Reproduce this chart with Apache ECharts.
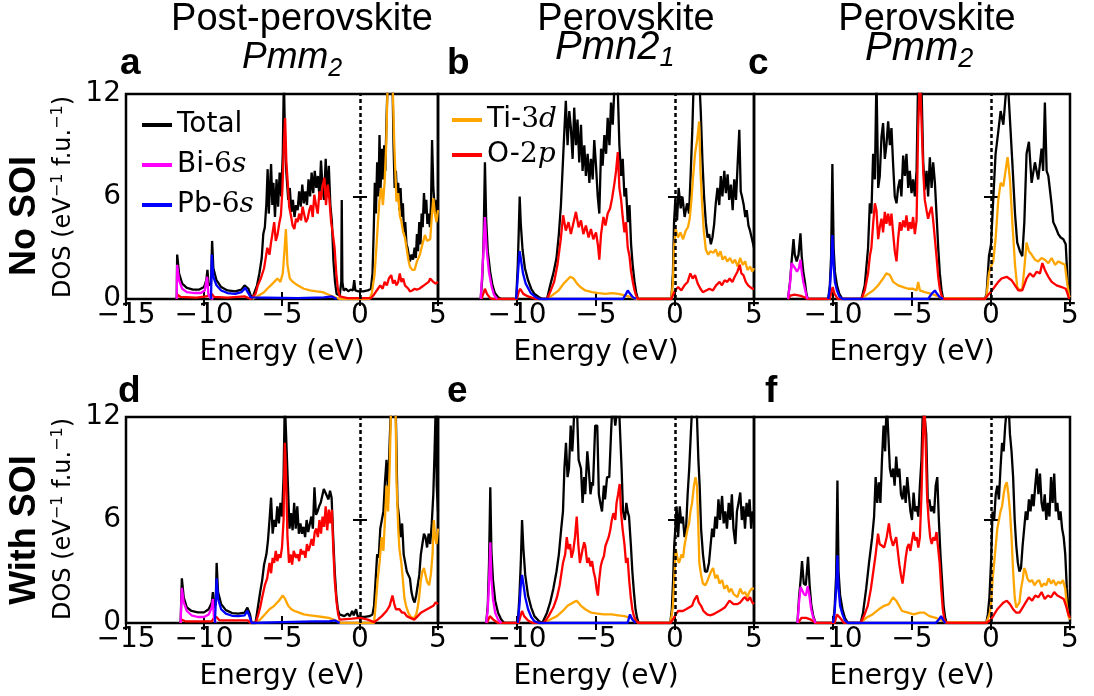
<!DOCTYPE html>
<html>
<head>
<meta charset="utf-8">
<script src="https://cdn.jsdelivr.net/npm/echarts@6/dist/echarts.min.js"></script>
<style>
html, body { margin: 0; padding: 0; background: #fff; }
#chart { width: 1094px; height: 696px; }
</style>
</head>
<body>
<div id="chart"></div>
<script>
// ticks
const xTicks = [-15, -10, -5, 0, 5];
const yTicks = [0, 6, 12];

// ---- a : post-perovskite Pmm2, no SOI ----
const aTotal = [[-11.75,0],[-11.72,2.6],[-11.6,1.5],[-11.4,0.9],[-11.1,0.65],[-10.7,0.55],[-10.3,0.55],[-10.0,0.7],[-9.85,1.1],[-9.78,1.7],[-9.7,0.8],[-9.55,0.9],[-9.48,3.4],[-9.4,1.8],[-9.2,1.1],[-8.9,0.7],[-8.5,0.5],[-8.0,0.45],[-7.6,0.55],[-7.4,0.8],[-7.3,0.9],[-7.15,0.6],[-7.0,0.2],[-6.9,0],
  [-6.8,0.3],[-6.6,0.8],[-6.45,1.5],[-6.3,2.4],[-6.2,3.8],[-6.1,4.2],[-6.0,5.6],[-5.92,7.6],[-5.85,5.0],[-5.78,6.3],[-5.7,7.9],[-5.62,5.5],[-5.55,6.8],[-5.45,4.8],[-5.35,7.0],[-5.25,5.4],[-5.15,7.4],[-5.05,6.0],[-4.95,8.5],[-4.88,13],[-4.8,9.0],[-4.72,7.4],[-4.6,5.8],[-4.5,6.5],[-4.4,5.1],[-4.3,5.8],[-4.2,4.8],[-4.1,5.5],[-4.0,5.2],[-3.9,6.3],[-3.8,5.4],[-3.7,6.7],[-3.6,5.6],[-3.5,6.3],[-3.4,5.5],[-3.3,7.0],[-3.2,6.0],[-3.1,7.4],[-3.0,6.2],[-2.9,7.5],[-2.8,6.5],[-2.7,7.2],[-2.6,6.0],[-2.5,8.1],[-2.4,6.5],[-2.3,5.8],[-2.2,8.2],[-2.1,6.0],[-2.0,7.8],[-1.9,5.5],[-1.8,4.5],[-1.7,2.2],[-1.6,1.0],[-1.5,0.3],[-1.3,0.2],[-1.2,1.0],[-1.17,5.8],[-1.13,1.0],[-1.05,0.5],
  [-0.9,0.6],[-0.75,0.45],[-0.6,0.55],[-0.45,0.5],[-0.37,1.1],[-0.3,0.5],[-0.1,0.45],[0.2,0.45],[0.5,0.5],[0.7,0.6],[0.8,1.5],
  [0.88,4.0],[0.95,6.8],[1.02,5.0],[1.1,8.0],[1.18,6.0],[1.25,9.6],[1.32,6.5],[1.4,8.8],[1.48,7.0],[1.55,9.0],[1.62,7.5],[1.7,10.5],[1.78,13],[2.08,13],[2.15,9.0],[2.22,6.5],[2.3,7.5],[2.38,5.8],[2.45,6.8],[2.52,5.2],[2.6,6.5],[2.68,4.8],[2.75,5.6],[2.82,3.9],[2.9,4.5],[2.98,3.2],[3.05,3.0],[3.12,2.6],[3.2,2.2],[3.3,2.6],[3.4,2.3],[3.5,3.0],[3.58,2.4],[3.65,3.8],[3.72,2.8],[3.8,4.5],[3.88,3.2],[3.95,5.0],[4.02,4.2],[4.1,6.2],[4.18,5.0],[4.25,5.8],[4.32,4.4],[4.4,5.0],[4.48,4.2],[4.55,5.5],[4.62,9.3],[4.7,6.5],[4.78,5.5],[4.85,5.0],[4.92,5.8],[5.0,5.5]];
const aTi = [[-6.9,0],[-6.6,0.15],[-6.15,0.4],[-5.95,0.6],[-5.72,0.8],[-5.5,1.0],[-5.29,1.2],[-5.1,1.0],[-4.95,1.5],[-4.86,2.6],[-4.75,4.1],[-4.65,2.0],[-4.5,1.2],[-4.3,1.0],[-4.0,0.8],[-3.6,0.6],[-3.2,0.5],[-2.8,0.45],[-2.4,0.4],[-2.0,0.25],[-1.6,0.1],[-1.3,0],
  [0.6,0],[0.75,0.3],[0.93,1.4],[1.05,3.0],[1.15,4.5],[1.25,5.8],[1.37,6.5],[1.47,5.5],[1.58,6.9],[1.68,9.0],[1.78,13],[2.08,13],[2.2,9.0],[2.34,5.7],[2.45,6.2],[2.55,4.9],[2.66,4.5],[2.77,3.9],[2.88,3.6],[2.98,3.0],[3.1,2.3],[3.2,1.9],[3.35,1.7],[3.5,1.7],[3.65,2.2],[3.84,2.6],[4.0,3.2],[4.16,3.75],[4.3,3.4],[4.5,3.5],[4.6,4.8],[4.7,5.9],[4.8,5.0],[4.9,4.5],[5.0,5.2]];
const aO = [[-11.75,0],[-11.7,0.25],[-11.5,0.12],[-10.5,0.08],[-9.85,0.15],[-9.75,0.2],[-9.5,0.3],[-9.35,0.12],[-8.5,0.08],[-7.4,0.15],[-7.3,0.18],[-7.0,0],
  [-6.9,0],[-6.7,0.3],[-6.55,0.8],[-6.36,1.2],[-6.15,1.8],[-5.94,3.0],[-5.8,2.6],[-5.72,3.2],[-5.6,3.9],[-5.5,4.5],[-5.4,3.4],[-5.29,3.75],[-5.18,4.4],[-5.07,4.9],[-4.97,6.5],[-4.88,9.0],[-4.8,10.6],[-4.72,8.0],[-4.64,6.9],[-4.54,5.4],[-4.43,4.9],[-4.32,4.3],[-4.21,4.1],[-4.1,4.7],[-4.0,4.5],[-3.9,5.0],[-3.78,4.6],[-3.68,5.4],[-3.57,5.3],[-3.47,4.5],[-3.36,4.7],[-3.25,5.2],[-3.14,5.5],[-3.03,4.8],[-2.93,6.1],[-2.82,5.5],[-2.71,5.0],[-2.6,6.3],[-2.5,5.8],[-2.4,6.6],[-2.28,7.1],[-2.18,5.5],[-2.07,6.7],[-1.96,5.8],[-1.85,4.5],[-1.74,3.8],[-1.63,3.0],[-1.52,1.5],[-1.42,0.6],[-1.3,0.15],[-1.2,0.05],
  [-0.8,0.05],[0.0,0.05],[0.7,0.05],
  [0.85,0.2],[1.0,0.4],[1.15,0.6],[1.3,0.8],[1.45,0.6],[1.58,1.0],[1.72,0.8],[1.85,1.2],[2.0,1.4],[2.12,0.9],[2.22,1.1],[2.34,0.8],[2.45,1.0],[2.55,1.5],[2.66,1.0],[2.77,1.2],[2.88,0.8],[2.98,0.9],[3.1,0.6],[3.2,0.45],[3.35,0.5],[3.5,0.6],[3.65,0.55],[3.8,0.6],[3.95,0.7],[4.1,0.8],[4.25,0.9],[4.4,1.0],[4.5,1.2],[4.6,1.1],[4.7,1.0],[4.85,0.9],[5.0,1.0]];
const aBi = [[-11.75,0],[-11.72,2.0],[-11.6,1.1],[-11.4,0.6],[-11.1,0.4],[-10.6,0.35],[-10.2,0.35],[-9.95,0.5],[-9.8,1.3],[-9.72,0.3],[-9.6,0.05],[-9.4,0]];
const aPb = [[-9.55,0],[-9.5,2.6],[-9.4,1.3],[-9.2,0.8],[-8.9,0.5],[-8.5,0.35],[-8.0,0.3],[-7.6,0.4],[-7.35,0.65],[-7.2,0.4],[-7.0,0.1],[-6.9,0],[-4.0,0.05],[-2.3,0.1],[-1.8,0.15],[-1.5,0]];

// ---- b : perovskite Pmn2_1, no SOI ----
const bTotal = [[-12.3,0],[-12.2,1.2],[-12.12,3.2],[-12.03,8.0],[-11.95,4.6],[-11.85,2.8],[-11.7,1.6],[-11.55,0.8],[-11.4,0.35],[-11.2,0.1],[-11.0,0],
  [-10.05,0],[-9.95,2.0],[-9.9,3.6],[-9.83,6.0],[-9.76,4.4],[-9.65,2.9],[-9.5,1.8],[-9.3,1.1],[-9.1,0.6],[-8.9,0.3],[-8.6,0.1],[-8.4,0],
  [-8.1,0],[-7.9,0.8],[-7.7,1.5],[-7.5,2.4],[-7.35,3.8],[-7.22,5.5],[-7.12,7.5],[-7.02,9.5],[-6.91,11.6],[-6.8,9.0],[-6.69,11.0],[-6.59,10.0],[-6.48,8.2],[-6.38,11.2],[-6.27,9.0],[-6.17,10.5],[-6.06,8.0],[-5.95,10.2],[-5.85,7.5],[-5.74,9.0],[-5.64,7.2],[-5.53,8.5],[-5.42,6.8],[-5.32,8.2],[-5.21,7.0],[-5.11,9.3],[-5.0,7.8],[-4.89,6.0],[-4.79,5.0],[-4.68,8.8],[-4.58,7.8],[-4.47,9.6],[-4.36,8.5],[-4.26,10.6],[-4.15,9.0],[-4.05,11.5],[-3.94,10.2],[-3.83,12.5],[-3.73,13],[-3.62,12.2],[-3.52,9.0],[-3.41,7.2],[-3.31,8.2],[-3.2,6.0],[-3.1,6.5],[-2.99,4.5],[-2.88,5.5],[-2.78,3.2],[-2.68,2.0],[-2.56,1.0],[-2.46,0.4],[-2.35,0],
  [-0.23,0],[-0.13,1.5],[-0.06,4.5],[0.02,5.8],[0.13,4.6],[0.23,6.5],[0.36,5.3],[0.47,6.0],[0.61,4.8],[0.76,5.6],[0.89,5.0],[1.0,7.5],[1.1,10.0],[1.19,13],[1.53,13],[1.63,11.0],[1.74,8.0],[1.84,6.0],[1.95,4.5],[2.06,3.6],[2.16,3.8],[2.27,3.2],[2.37,3.6],[2.48,4.4],[2.58,5.6],[2.69,6.5],[2.8,5.5],[2.9,7.2],[3.0,6.0],[3.12,7.5],[3.22,6.2],[3.33,7.3],[3.43,5.8],[3.54,6.7],[3.65,5.2],[3.75,7.0],[3.86,5.8],[3.97,8.0],[4.07,9.9],[4.16,6.3],[4.24,6.0],[4.35,5.5],[4.45,4.8],[4.54,5.2],[4.65,4.3],[4.75,4.0],[4.85,3.6],[5.0,3.0]];
const bTi = [[-8.1,0],[-7.8,0.2],[-7.37,0.5],[-7.05,0.9],[-6.84,1.1],[-6.63,1.3],[-6.42,1.2],[-6.2,0.9],[-5.99,0.7],[-5.68,0.5],[-5.25,0.4],[-4.83,0.35],[-4.4,0.3],[-3.98,0.35],[-3.56,0.3],[-3.14,0.2],[-2.71,0.1],[-2.5,0],
  [-0.23,0],[-0.13,1.0],[-0.06,3.0],[0.04,4.1],[0.19,3.6],[0.34,3.9],[0.51,3.5],[0.68,4.0],[0.82,4.2],[0.93,4.7],[1.04,5.8],[1.14,7.1],[1.27,8.5],[1.4,9.3],[1.53,10.4],[1.61,7.5],[1.72,5.5],[1.82,4.0],[1.95,2.9],[2.1,2.6],[2.25,2.8],[2.42,2.7],[2.58,2.9],[2.73,2.5],[2.88,2.8],[3.01,2.3],[3.16,2.5],[3.31,2.2],[3.48,2.4],[3.65,2.1],[3.8,2.3],[3.97,1.9],[4.12,2.4],[4.29,2.0],[4.44,2.2],[4.59,1.7],[4.76,1.9],[4.88,1.6],[5.0,1.8]];
const bO = [[-12.25,0],[-12.1,0.4],[-12.03,0.6],[-11.9,0.3],[-11.7,0.05],[-11.5,0],
  [-10.0,0],[-9.9,0.4],[-9.8,0.6],[-9.6,0.3],[-9.3,0.15],[-8.8,0],
  [-8.1,0],[-7.86,0.5],[-7.65,1.0],[-7.44,2.0],[-7.23,3.5],[-7.08,4.9],[-6.91,4.0],[-6.74,4.5],[-6.59,3.8],[-6.44,4.4],[-6.27,5.1],[-6.1,4.2],[-5.95,4.6],[-5.8,3.8],[-5.64,4.3],[-5.47,3.6],[-5.32,4.1],[-5.17,3.5],[-5.0,3.9],[-4.87,3.1],[-4.79,2.3],[-4.68,3.8],[-4.53,4.8],[-4.4,4.3],[-4.26,5.0],[-4.11,5.3],[-3.98,5.9],[-3.83,6.8],[-3.73,7.5],[-3.62,8.6],[-3.52,6.5],[-3.41,5.8],[-3.31,4.8],[-3.2,3.9],[-3.1,4.5],[-2.99,3.0],[-2.88,2.5],[-2.78,1.6],[-2.67,1.0],[-2.56,0.5],[-2.46,0.2],[-2.35,0],
  [-0.23,0],[-0.1,0.3],[0.0,0.5],[0.2,0.7],[0.4,0.5],[0.6,0.8],[0.8,1.0],[0.97,1.5],[1.12,1.2],[1.27,1.4],[1.44,0.9],[1.61,0.6],[1.76,0.4],[1.97,0.5],[2.18,0.6],[2.4,0.5],[2.6,0.8],[2.82,1.0],[2.97,0.8],[3.14,1.1],[3.31,1.0],[3.46,1.2],[3.63,1.0],[3.78,1.3],[3.95,1.6],[4.1,2.0],[4.2,1.5],[4.33,1.4],[4.48,1.0],[4.63,0.8],[4.76,0.7],[4.9,0.6],[5.0,0.6]];
const bBi = [[-12.3,0],[-12.14,2.5],[-12.03,4.8],[-11.93,3.0],[-11.78,1.6],[-11.6,0.7],[-11.46,0.25],[-11.25,0]];
const bPb = [[-10.05,0],[-9.9,2.0],[-9.83,2.8],[-9.75,2.3],[-9.62,1.5],[-9.45,0.9],[-9.13,0.35],[-8.8,0.1],[-8.6,0],[-3.3,0],[-3.1,0.3],[-2.99,0.5],[-2.88,0.35],[-2.67,0.1],[-2.46,0]];

// ---- c : perovskite Pmm2, no SOI ----
const cTotal = [[-12.85,0],[-12.72,1.0],[-12.62,2.2],[-12.5,3.5],[-12.42,2.6],[-12.3,2.2],[-12.18,2.6],[-12.06,3.85],[-11.98,2.5],[-11.88,1.6],[-11.78,1.0],[-11.68,0.3],[-11.6,0],
  [-10.3,0],[-10.2,0.8],[-10.12,2.5],[-10.04,7.9],[-9.96,3.0],[-9.88,1.6],[-9.75,0.8],[-9.6,0.3],[-9.4,0],
  [-8.2,0],[-7.99,0.8],[-7.78,3.0],[-7.67,5.6],[-7.57,5.0],[-7.46,8.5],[-7.35,7.0],[-7.25,13],[-7.14,6.5],[-7.04,7.2],[-6.93,9.5],[-6.83,10.3],[-6.72,8.2],[-6.62,9.0],[-6.51,10.4],[-6.4,9.0],[-6.3,10.0],[-6.19,7.8],[-6.09,6.0],[-5.98,5.6],[-5.88,6.5],[-5.77,7.0],[-5.67,6.0],[-5.56,8.4],[-5.45,7.2],[-5.35,8.5],[-5.24,6.5],[-5.14,7.5],[-5.03,6.2],[-4.93,7.0],[-4.82,6.0],[-4.71,7.5],[-4.61,13],[-4.4,12.5],[-4.29,8.0],[-4.19,6.4],[-4.08,7.5],[-3.98,6.0],[-3.87,8.3],[-3.76,6.5],[-3.66,8.0],[-3.55,6.8],[-3.45,5.0],[-3.34,3.0],[-3.24,1.5],[-3.13,0.5],[-3.03,0],
  [-0.39,0],[-0.28,0.3],[-0.13,2.5],[0.0,3.2],[0.14,5.8],[0.29,8.5],[0.46,9.8],[0.61,11.0],[0.78,10.2],[0.92,11.8],[1.05,13],[1.2,10.5],[1.35,8.0],[1.52,5.0],[1.66,3.3],[1.83,2.8],[1.98,2.5],[2.11,4.5],[2.25,8.5],[2.4,9.2],[2.57,6.8],[2.78,8.0],[2.99,7.0],[3.2,8.8],[3.3,7.5],[3.41,11.5],[3.52,7.5],[3.63,7.2],[3.84,5.5],[3.94,4.5],[4.09,4.2],[4.26,3.8],[4.41,3.6],[4.58,3.5],[4.73,3.2],[4.85,1.0],[4.94,0.2],[5.0,0]];
const cTi = [[-8.2,0],[-7.78,0.3],[-7.46,0.5],[-7.14,0.8],[-6.83,1.2],[-6.62,1.5],[-6.51,1.6],[-6.4,1.4],[-6.19,1.0],[-5.88,0.8],[-5.56,0.7],[-5.24,0.6],[-4.93,0.6],[-4.71,0.5],[-4.61,1.0],[-4.5,0.5],[-4.19,0.4],[-3.76,0.3],[-3.45,0.2],[-3.13,0.05],[-3.03,0],
  [-0.39,0],[-0.28,0.2],[-0.13,1.5],[0.0,1.9],[0.14,2.2],[0.29,3.5],[0.46,5.8],[0.61,6.8],[0.78,6.6],[0.92,7.5],[1.05,8.3],[1.2,7.0],[1.35,4.5],[1.52,2.0],[1.66,0.7],[1.83,0.5],[1.98,0.6],[2.11,1.8],[2.25,3.3],[2.4,2.8],[2.57,2.6],[2.78,2.3],[2.99,2.2],[3.2,2.4],[3.41,2.3],[3.63,2.1],[3.84,2.4],[4.05,2.0],[4.26,2.2],[4.47,2.1],[4.68,2.0],[4.81,1.0],[4.94,0.2],[5.0,0.1]];
const cO = [[-12.85,0],[-12.7,0.2],[-12.45,0.25],[-12.1,0.2],[-11.8,0.1],[-11.6,0],[-10.2,0],[-10.08,0.5],[-10.02,0.7],[-9.9,0.3],[-9.7,0],
  [-8.2,0],[-7.99,0.5],[-7.78,1.5],[-7.67,2.5],[-7.57,3.0],[-7.46,4.4],[-7.35,5.6],[-7.25,5.2],[-7.14,3.5],[-7.04,4.2],[-6.93,4.7],[-6.83,3.9],[-6.72,5.1],[-6.62,4.4],[-6.51,5.0],[-6.4,4.3],[-6.3,5.0],[-6.19,3.8],[-6.09,2.8],[-5.98,2.2],[-5.88,3.5],[-5.77,4.5],[-5.67,4.0],[-5.56,4.6],[-5.45,4.2],[-5.35,4.9],[-5.24,4.0],[-5.14,4.5],[-5.03,4.1],[-4.93,4.8],[-4.82,3.8],[-4.71,4.6],[-4.61,10.0],[-4.5,13],[-4.4,10.5],[-4.29,7.5],[-4.19,5.8],[-4.08,5.2],[-3.98,4.7],[-3.87,5.1],[-3.76,5.4],[-3.66,4.6],[-3.55,3.5],[-3.45,2.5],[-3.34,1.3],[-3.24,0.6],[-3.13,0.2],[-3.03,0],
  [-0.39,0],[-0.13,0.3],[0.14,0.6],[0.46,1.0],[0.67,1.2],[0.99,1.3],[1.3,1.1],[1.52,0.8],[1.73,0.5],[1.98,0.5],[2.25,1.2],[2.46,1.5],[2.68,1.3],[2.89,1.6],[3.1,1.5],[3.25,2.1],[3.41,1.7],[3.63,1.3],[3.84,1.0],[4.15,0.8],[4.47,0.7],[4.73,0.6],[4.85,0.3],[4.94,0]];
const cBi = [[-12.85,0],[-12.72,0.9],[-12.62,2.1],[-12.5,2.2],[-12.4,1.8],[-12.28,1.6],[-12.16,1.8],[-12.06,2.3],[-11.98,1.6],[-11.88,1.0],[-11.78,0.6],[-11.68,0.2],[-11.6,0]];
const cPb = [[-10.3,0],[-10.2,0.6],[-10.12,1.8],[-10.04,3.75],[-9.96,2.0],[-9.88,1.0],[-9.75,0.5],[-9.6,0.15],[-9.4,0],[-3.98,0],[-3.76,0.3],[-3.55,0.5],[-3.45,0.35],[-3.24,0.1],[-3.03,0]];

// ---- d : post-perovskite Pmm2, with SOI ----
const dTotal = [[-11.5,0],[-11.42,2.6],[-11.3,1.5],[-11.1,0.9],[-10.8,0.7],[-10.4,0.62],[-10.0,0.62],[-9.7,0.8],[-9.5,1.2],[-9.43,1.8],[-9.36,0.9],[-9.25,1.1],[-9.19,3.5],[-9.1,1.8],[-8.9,1.1],[-8.6,0.75],[-8.2,0.58],[-7.8,0.55],[-7.4,0.6],[-7.22,0.9],[-7.14,1.0],[-7.05,0.5],[-6.95,0],
  [-6.7,0],[-6.55,0.9],[-6.4,1.8],[-6.27,2.5],[-6.15,3.4],[-6.0,4.0],[-5.9,4.8],[-5.8,6.0],[-5.7,7.3],[-5.6,5.2],[-5.5,6.0],[-5.4,5.6],[-5.3,6.8],[-5.2,5.8],[-5.1,7.0],[-5.0,6.2],[-4.9,8.5],[-4.82,13],[-4.72,13],[-4.62,8.0],[-4.52,5.5],[-4.42,6.4],[-4.32,5.4],[-4.22,7.0],[-4.12,5.5],[-4.02,6.8],[-3.92,5.2],[-3.82,5.8],[-3.72,5.2],[-3.62,5.6],[-3.52,5.0],[-3.42,6.0],[-3.32,5.3],[-3.22,5.4],[-3.12,6.2],[-3.02,5.5],[-2.92,7.9],[-2.82,6.3],[-2.72,6.5],[-2.62,6.8],[-2.52,7.0],[-2.42,7.0],[-2.32,7.8],[-2.22,7.6],[-2.12,7.6],[-2.02,7.2],[-1.92,7.7],[-1.82,7.3],[-1.72,5.0],[-1.62,3.0],[-1.52,1.6],[-1.42,0.8],[-1.32,0.5],
  [-1.2,0.45],[-1.0,0.4],[-0.8,0.55],[-0.65,0.4],[-0.5,0.7],[-0.4,0.45],[-0.25,0.8],[-0.15,0.4],[0.0,0.35],[0.3,0.35],[0.6,0.4],[0.8,0.5],
  [0.9,1.0],[1.0,2.5],[1.1,4.0],[1.2,3.8],[1.3,5.5],[1.4,6.0],[1.5,6.5],[1.6,8.2],[1.7,9.5],[1.8,7.5],[1.9,10.5],[2.0,13],[2.3,12.0],[2.4,7.0],[2.5,6.2],[2.6,5.0],[2.7,5.8],[2.8,4.0],[2.9,3.5],[3.0,3.0],[3.1,2.8],[3.2,2.6],[3.3,1.8],[3.4,1.4],[3.5,1.2],[3.6,1.6],[3.7,2.2],[3.8,2.8],[3.9,4.0],[4.0,4.6],[4.1,5.2],[4.2,5.0],[4.3,4.4],[4.4,5.2],[4.5,4.6],[4.6,5.8],[4.7,7.5],[4.78,10],[4.85,12.5],[4.92,8.0],[5.0,6.5]];
const dTi = [[-6.7,0],[-6.4,0.2],[-6.1,0.5],[-5.8,0.8],[-5.5,1.0],[-5.2,1.3],[-4.95,1.6],[-4.8,1.4],[-4.75,1.5],[-4.6,1.0],[-4.4,0.8],[-4.2,0.7],[-3.9,0.6],[-3.6,0.5],[-3.2,0.45],[-2.8,0.4],[-2.4,0.35],[-2.0,0.3],[-1.7,0.2],[-1.4,0.1],[-1.25,0],
  [0.9,0],[1.0,1.0],[1.13,2.5],[1.25,3.5],[1.39,5.0],[1.5,4.2],[1.6,6.0],[1.7,8.0],[1.8,6.5],[1.9,9.0],[2.0,13],[2.27,13],[2.35,8.0],[2.45,5.5],[2.53,4.3],[2.65,3.5],[2.75,2.5],[2.84,1.5],[2.95,1.0],[3.1,0.6],[3.22,0.4],[3.35,0.3],[3.48,0.3],[3.6,0.5],[3.7,0.9],[3.79,1.5],[3.9,2.5],[4.0,3.0],[4.1,3.2],[4.2,2.8],[4.3,2.4],[4.43,2.2],[4.54,2.8],[4.65,4.0],[4.73,6.0],[4.82,5.0],[4.9,4.6],[5.0,5.5]];
const dO = [[-11.5,0],[-11.45,0.2],[-11.2,0.1],[-9.5,0.1],[-9.4,0.25],[-9.2,0.35],[-9.0,0.15],[-7.2,0.15],[-7.0,0],
  [-6.7,0],[-6.55,0.4],[-6.4,0.9],[-6.27,1.5],[-6.1,2.2],[-5.95,2.6],[-5.8,3.5],[-5.7,2.9],[-5.6,3.8],[-5.5,3.5],[-5.4,4.2],[-5.3,3.6],[-5.2,4.0],[-5.1,3.8],[-5.0,4.4],[-4.9,6.0],[-4.82,10.5],[-4.75,9.0],[-4.65,5.0],[-4.55,3.5],[-4.45,4.0],[-4.35,3.4],[-4.25,4.2],[-4.1,3.8],[-4.0,4.0],[-3.9,3.6],[-3.8,4.3],[-3.7,4.0],[-3.6,4.2],[-3.5,3.8],[-3.4,4.6],[-3.3,4.2],[-3.2,4.5],[-3.1,4.9],[-3.0,4.5],[-2.9,5.3],[-2.8,5.5],[-2.7,5.0],[-2.6,6.0],[-2.5,5.2],[-2.4,6.2],[-2.3,5.6],[-2.2,6.8],[-2.1,5.4],[-2.0,6.6],[-1.9,5.8],[-1.8,6.6],[-1.72,4.5],[-1.62,2.5],[-1.5,1.2],[-1.4,0.5],[-1.3,0.2],
  [-1.2,0.1],[-0.5,0.25],[0.0,0.3],[0.5,0.2],[0.9,0.05],
  [1.13,0.2],[1.4,0.4],[1.7,0.7],[1.9,1.0],[2.08,1.6],[2.2,1.1],[2.3,0.8],[2.53,0.8],[2.7,0.6],[2.84,0.6],[3.0,0.4],[3.22,0.3],[3.48,0.2],[3.7,0.4],[3.9,0.6],[4.1,0.7],[4.3,0.8],[4.5,0.9],[4.7,1.0],[4.85,1.2],[5.0,1.1]];
const dBi = [[-11.5,0],[-11.42,2.05],[-11.3,1.2],[-11.1,0.7],[-10.8,0.45],[-10.4,0.35],[-10.0,0.35],[-9.7,0.5],[-9.5,0.9],[-9.43,1.4],[-9.36,0.3],[-9.25,0]];
const dPb = [[-9.3,0],[-9.19,2.6],[-9.1,1.4],[-8.9,0.8],[-8.6,0.55],[-8.2,0.42],[-7.8,0.4],[-7.4,0.45],[-7.22,0.7],[-7.14,0.75],[-7.05,0.3],[-6.95,0],[-5.0,0.05],[-3.0,0.1],[-2.0,0.1],[-1.6,0.15],[-1.3,0]];

// ---- e : perovskite Pmn2_1, with SOI ----
const eTotal = [[-11.95,0],[-11.85,1.0],[-11.77,3.5],[-11.69,7.9],[-11.62,4.2],[-11.52,2.5],[-11.38,1.3],[-11.2,0.6],[-11.0,0.2],[-10.8,0],
  [-9.95,0],[-9.85,1.5],[-9.76,3.5],[-9.68,6.0],[-9.6,4.4],[-9.48,2.8],[-9.3,1.6],[-9.1,0.9],[-8.9,0.4],[-8.6,0.1],[-8.4,0],
  [-8.3,0],[-8.1,0.6],[-7.9,1.2],[-7.7,2.0],[-7.5,3.0],[-7.35,4.0],[-7.2,5.5],[-7.09,6.5],[-7.0,9.0],[-6.9,10.5],[-6.8,8.5],[-6.71,9.0],[-6.6,11.5],[-6.5,10.0],[-6.44,11.0],[-6.35,13],[-6.22,13],[-6.1,9.5],[-5.95,9.0],[-5.85,7.0],[-5.75,8.5],[-5.68,7.5],[-5.55,10.0],[-5.46,9.0],[-5.35,7.5],[-5.25,8.2],[-5.19,8.0],[-5.05,11.5],[-4.92,11.5],[-4.82,7.5],[-4.73,7.0],[-4.62,6.5],[-4.5,8.0],[-4.43,7.2],[-4.3,8.5],[-4.16,8.5],[-4.05,11.0],[-3.95,13],[-3.86,13],[-3.78,11.5],[-3.66,12.5],[-3.56,13],[-3.48,13],[-3.38,9.0],[-3.29,6.5],[-3.17,6.0],[-3.08,7.0],[-3.0,6.5],[-2.91,6.2],[-2.79,4.5],[-2.7,3.0],[-2.6,1.8],[-2.5,0.8],[-2.4,0.3],[-2.3,0],
  [-0.3,0],[-0.2,0.8],[-0.12,2.5],[-0.05,4.5],[0.02,5.5],[0.1,6.8],[0.2,5.0],[0.3,6.8],[0.4,5.8],[0.5,6.2],[0.6,5.0],[0.7,5.5],[0.8,7.5],[0.9,9.0],[1.0,11.0],[1.08,12.5],[1.16,13],[1.27,13],[1.39,12.0],[1.48,9.5],[1.56,8.0],[1.65,5.5],[1.77,4.0],[1.9,3.0],[2.03,3.0],[2.15,3.5],[2.25,4.5],[2.35,5.5],[2.45,5.0],[2.55,6.2],[2.65,5.5],[2.75,7.2],[2.85,6.0],[2.98,7.4],[3.08,5.8],[3.18,6.5],[3.29,5.5],[3.4,7.0],[3.5,6.0],[3.6,7.5],[3.7,5.5],[3.82,4.6],[3.92,6.5],[4.02,7.0],[4.13,7.6],[4.23,6.0],[4.33,6.8],[4.43,5.5],[4.53,7.0],[4.63,6.2],[4.72,7.2],[4.82,5.5],[4.92,6.5],[5.0,6.0]];
const eTi = [[-8.3,0],[-7.9,0.2],[-7.47,0.4],[-7.1,0.7],[-6.8,1.0],[-6.44,1.2],[-6.22,1.3],[-5.95,1.0],[-5.68,0.8],[-5.3,0.6],[-4.9,0.55],[-4.5,0.5],[-4.0,0.5],[-3.6,0.45],[-3.2,0.4],[-2.8,0.3],[-2.5,0.15],[-2.3,0],
  [-0.3,0],[-0.2,0.5],[-0.13,1.0],[-0.05,2.5],[0.05,4.3],[0.15,3.8],[0.25,3.5],[0.32,3.5],[0.42,4.0],[0.51,3.8],[0.6,4.5],[0.7,5.0],[0.8,5.5],[0.89,5.8],[0.98,6.5],[1.08,7.0],[1.2,8.0],[1.3,8.5],[1.39,8.0],[1.48,5.5],[1.54,3.5],[1.65,2.8],[1.77,2.3],[1.92,2.2],[2.03,2.4],[2.15,2.7],[2.28,3.0],[2.41,3.2],[2.55,2.6],[2.68,2.8],[2.82,2.3],[2.98,2.5],[3.12,2.0],[3.29,2.2],[3.42,1.8],[3.56,2.0],[3.7,1.7],[3.82,1.8],[3.95,1.5],[4.13,2.0],[4.28,1.7],[4.43,1.8],[4.58,1.5],[4.7,1.8],[4.85,2.0],[5.0,2.0]];
const eO = [[-11.9,0],[-11.72,0.4],[-11.65,0.5],[-11.5,0.2],[-11.2,0],
  [-9.9,0],[-9.75,0.5],[-9.68,0.7],[-9.55,0.4],[-9.3,0.15],[-9.0,0],
  [-8.3,0],[-8.0,0.4],[-7.7,0.9],[-7.47,1.5],[-7.3,2.2],[-7.09,3.5],[-6.95,4.0],[-6.85,5.0],[-6.75,4.3],[-6.64,4.6],[-6.55,3.8],[-6.44,4.2],[-6.33,5.0],[-6.22,6.2],[-6.12,4.6],[-6.02,3.5],[-5.95,3.8],[-5.85,4.3],[-5.75,4.7],[-5.68,4.5],[-5.56,3.5],[-5.46,3.8],[-5.35,3.3],[-5.25,3.6],[-5.15,3.0],[-5.05,2.6],[-4.95,1.9],[-4.88,1.6],[-4.8,2.5],[-4.7,3.3],[-4.62,3.6],[-4.5,3.9],[-4.4,4.5],[-4.3,4.6],[-4.2,5.0],[-4.1,5.4],[-4.0,6.0],[-3.9,6.4],[-3.78,6.0],[-3.7,7.0],[-3.6,7.5],[-3.5,8.1],[-3.42,6.5],[-3.32,5.5],[-3.2,4.6],[-3.1,3.5],[-3.0,3.8],[-2.9,2.5],[-2.8,1.5],[-2.7,0.8],[-2.6,0.4],[-2.45,0.1],[-2.3,0],
  [-0.3,0],[-0.13,0.2],[0.05,0.5],[0.2,0.7],[0.32,0.8],[0.5,0.7],[0.7,0.8],[0.89,0.9],[1.08,1.0],[1.2,1.3],[1.39,1.6],[1.5,1.2],[1.65,1.0],[1.8,0.7],[2.03,0.5],[2.2,0.45],[2.41,0.5],[2.6,0.6],[2.8,0.7],[2.98,0.8],[3.15,0.9],[3.3,1.1],[3.45,1.3],[3.56,1.3],[3.7,1.1],[3.82,1.0],[3.95,1.1],[4.13,1.2],[4.3,1.4],[4.43,1.5],[4.6,1.3],[4.75,1.5],[4.89,1.2],[5.0,1.1]];
const eBi = [[-11.95,0],[-11.85,0.8],[-11.77,2.4],[-11.69,4.7],[-11.62,2.6],[-11.52,1.4],[-11.38,0.6],[-11.2,0.2],[-11.0,0]];
const ePb = [[-9.95,0],[-9.85,1.0],[-9.76,2.2],[-9.68,2.8],[-9.6,2.3],[-9.48,1.5],[-9.3,0.8],[-9.1,0.35],[-8.9,0.1],[-8.6,0],[-3.0,0],[-2.85,0.5],[-2.7,0.2],[-2.5,0]];

// ---- f : perovskite Pmm2, with SOI ----
const fTotal = [[-12.25,0],[-12.15,1.5],[-12.05,2.5],[-11.96,3.6],[-11.85,2.3],[-11.72,2.2],[-11.58,3.85],[-11.48,2.2],[-11.38,1.1],[-11.25,0.4],[-11.1,0],
  [-10.0,0],[-9.9,0.8],[-9.8,2.8],[-9.72,8.3],[-9.65,3.0],[-9.55,1.6],[-9.4,0.8],[-9.25,0.3],[-9.05,0],
  [-8.25,0],[-8.1,0.6],[-7.9,2.0],[-7.72,3.5],[-7.52,5.0],[-7.4,6.2],[-7.3,8.5],[-7.2,7.0],[-7.1,8.2],[-7.0,7.0],[-6.9,9.5],[-6.8,11.5],[-6.7,10.0],[-6.6,13],[-6.5,13],[-6.4,9.0],[-6.3,8.5],[-6.2,9.0],[-6.1,8.0],[-6.0,9.7],[-5.9,8.5],[-5.8,9.0],[-5.7,7.5],[-5.6,7.2],[-5.5,8.0],[-5.4,7.0],[-5.3,8.5],[-5.2,7.5],[-5.1,6.5],[-5.0,6.0],[-4.9,7.6],[-4.8,6.5],[-4.7,6.8],[-4.6,6.2],[-4.5,8.0],[-4.4,9.5],[-4.3,13],[-4.2,13],[-4.1,11.0],[-4.0,7.0],[-3.9,7.2],[-3.8,6.5],[-3.7,6.8],[-3.6,6.4],[-3.5,8.0],[-3.4,8.5],[-3.3,6.0],[-3.2,4.0],[-3.1,2.5],[-3.0,1.0],[-2.9,0.3],[-2.8,0],
  [-0.3,0],[-0.2,0.5],[-0.1,1.5],[0.0,3.5],[0.1,6.5],[0.2,6.0],[0.3,7.5],[0.4,8.0],[0.5,7.2],[0.6,9.0],[0.7,10.5],[0.8,10.0],[0.9,11.5],[1.0,12.5],[1.1,13],[1.2,11.0],[1.3,10.0],[1.4,8.5],[1.5,6.0],[1.6,4.5],[1.7,3.5],[1.8,3.0],[1.9,3.2],[2.0,4.5],[2.1,5.5],[2.2,6.5],[2.3,6.0],[2.4,7.2],[2.5,6.5],[2.6,7.5],[2.7,6.8],[2.8,8.0],[2.9,9.0],[3.0,7.5],[3.1,8.7],[3.2,7.0],[3.3,6.5],[3.4,7.5],[3.5,6.0],[3.6,7.0],[3.7,6.2],[3.8,8.5],[3.9,7.0],[4.0,8.7],[4.1,6.5],[4.2,7.0],[4.3,6.0],[4.4,6.5],[4.5,5.5],[4.6,5.0],[4.7,4.0],[4.8,2.0],[4.9,0.8],[5.0,0.3]];
const fTi = [[-8.25,0],[-7.9,0.3],[-7.5,0.5],[-7.1,0.8],[-6.76,1.0],[-6.46,1.1],[-6.2,1.5],[-6.0,1.3],[-5.63,0.7],[-5.25,0.6],[-4.9,0.5],[-4.5,0.6],[-4.22,0.6],[-3.9,0.4],[-3.5,0.3],[-3.2,0.2],[-2.9,0.05],[-2.8,0],
  [-0.3,0],[-0.1,0.5],[0.0,1.0],[0.1,2.5],[0.2,3.5],[0.3,4.5],[0.4,5.5],[0.5,6.0],[0.6,6.5],[0.7,6.8],[0.8,7.5],[0.9,8.0],[1.0,8.2],[1.1,7.5],[1.2,6.5],[1.3,5.0],[1.4,3.0],[1.5,1.5],[1.6,0.9],[1.7,0.8],[1.8,1.2],[1.9,2.0],[2.0,2.5],[2.1,3.2],[2.2,3.0],[2.3,2.6],[2.45,2.4],[2.6,2.5],[2.75,2.2],[2.9,2.4],[3.05,2.5],[3.2,2.1],[3.35,2.3],[3.5,2.2],[3.65,2.6],[3.8,2.3],[3.95,2.5],[4.1,2.2],[4.25,2.4],[4.4,2.3],[4.55,2.5],[4.7,2.0],[4.8,1.0],[4.9,0.4],[5.0,0.2]];
const fO = [[-12.2,0],[-12.0,0.3],[-11.7,0.3],[-11.4,0.2],[-11.1,0],
  [-9.9,0],[-9.75,0.5],[-9.7,0.6],[-9.55,0.3],[-9.3,0],
  [-8.25,0],[-8.0,0.5],[-7.8,1.0],[-7.6,2.0],[-7.45,3.0],[-7.3,4.0],[-7.15,5.2],[-7.05,4.6],[-6.9,4.5],[-6.76,4.4],[-6.6,5.0],[-6.46,5.8],[-6.35,5.0],[-6.2,4.5],[-6.1,4.6],[-6.0,5.0],[-5.9,4.2],[-5.8,3.4],[-5.7,2.8],[-5.6,2.3],[-5.5,3.0],[-5.4,3.8],[-5.3,4.4],[-5.2,4.6],[-5.1,4.2],[-5.0,4.8],[-4.9,5.3],[-4.8,4.8],[-4.7,5.0],[-4.6,4.4],[-4.5,5.0],[-4.4,7.5],[-4.3,11],[-4.22,13],[-4.15,11],[-4.05,7.5],[-3.95,6.0],[-3.85,5.0],[-3.75,4.6],[-3.65,5.0],[-3.55,4.8],[-3.45,5.3],[-3.35,5.4],[-3.25,3.5],[-3.15,2.0],[-3.05,0.8],[-2.95,0.2],[-2.8,0],
  [-0.3,0],[0.0,0.2],[0.2,0.5],[0.4,0.8],[0.6,1.0],[0.8,1.2],[1.0,1.3],[1.2,1.1],[1.4,0.8],[1.6,0.6],[1.8,0.6],[2.0,0.9],[2.2,1.2],[2.4,1.5],[2.6,1.3],[2.8,1.6],[3.0,1.5],[3.2,1.8],[3.4,1.4],[3.6,1.6],[3.8,1.5],[4.0,1.8],[4.2,1.6],[4.4,1.5],[4.6,1.4],[4.75,1.0],[4.9,0.5],[5.0,0.3]];
const fBi = [[-12.25,0],[-12.15,1.2],[-12.05,2.1],[-11.96,2.15],[-11.85,1.7],[-11.72,1.6],[-11.6,2.15],[-11.48,1.5],[-11.38,0.8],[-11.25,0.3],[-11.1,0]];
const fPb = [[-10.0,0],[-9.9,0.6],[-9.8,2.0],[-9.72,3.95],[-9.65,2.0],[-9.55,1.0],[-9.4,0.5],[-9.25,0.15],[-9.05,0],[-3.5,0],[-3.3,0.2],[-3.16,0.4],[-3.05,0.2],[-2.9,0]];

const panels = [
  { total: aTotal, ti: aTi, o: aO, bi: aBi, pb: aPb },
  { total: bTotal, ti: bTi, o: bO, bi: bBi, pb: bPb },
  { total: cTotal, ti: cTi, o: cO, bi: cBi, pb: cPb },
  { total: dTotal, ti: dTi, o: dO, bi: dBi, pb: dPb },
  { total: eTotal, ti: eTi, o: eO, bi: eBi, pb: ePb },
  { total: fTotal, ti: fTi, o: fO, bi: fBi, pb: fPb }
];
const seriesDefs = [
  ['total', 'Total', '#000000'],
  ['ti', 'Ti-3d', '#FFA500'],
  ['o', 'O-2p', '#FF0000'],
  ['bi', 'Bi-6s', '#FF00FF'],
  ['pb', 'Pb-6s', '#0000FF']
];

const gridLefts = [126, 438, 754];
const gridWidths = [312, 316, 316];
const rowTops = [94, 417];
const rowHeights = [205, 206];

const FONT = 'DejaVu Sans';
const SANS = 'Liberation Sans';

const grids = [], xAxes = [], yAxes = [], series = [];
const tick = { show: true, inside: true, length: 7, lineStyle: { color: '#000', width: 2 } };

function fmtX(col) {
  return function (v) {
    if (v === -15 && col > 0) return '';
    return v < 0 ? '\u2212' + Math.abs(v) : String(v);
  };
}

for (let i = 0; i < 6; i++) {
  const row = Math.floor(i / 3), col = i % 3;
  grids.push({
    left: gridLefts[col], top: rowTops[row], width: gridWidths[col], height: rowHeights[row],
    show: true, borderColor: '#000', borderWidth: 2.5, backgroundColor: 'transparent',
    containLabel: false, outerBoundsMode: 'none'
  });
  xAxes[i] = {
    gridIndex: i, type: 'value', min: -15, max: 5, interval: 5,
    axisLine: { show: false }, axisTick: tick, splitLine: { show: false },
    axisLabel: { fontSize: 28, color: '#000', fontFamily: FONT, margin: 3, formatter: fmtX(col) },
    name: 'Energy (eV)', nameLocation: 'middle', nameGap: 40, nameMoveOverlap: false,
    nameTextStyle: { fontSize: 28, color: '#000', fontFamily: FONT }
  };
  xAxes[i + 6] = {
    gridIndex: i, type: 'value', position: 'top', min: -15, max: 5, interval: 5,
    axisLine: { show: false }, axisTick: tick, splitLine: { show: false }, axisLabel: { show: false }
  };
  yAxes[i] = {
    gridIndex: i, type: 'value', min: 0, max: 12, interval: 6,
    axisLine: { show: false }, axisTick: tick, splitLine: { show: false },
    axisLabel: { show: col === 0, fontSize: 28, color: '#000', fontFamily: FONT, margin: 5 }
  };
  yAxes[i + 6] = {
    gridIndex: i, type: 'value', position: 'right', min: 0, max: 12, interval: 6,
    axisLine: { show: false }, axisTick: tick, splitLine: { show: false }, axisLabel: { show: false }
  };
  seriesDefs.forEach(function (d, k) {
    const s = {
      type: 'line', name: d[1], xAxisIndex: i, yAxisIndex: i,
      data: panels[i][d[0]], showSymbol: false, symbol: 'none', clip: true,
      lineStyle: { color: d[2], width: 2.3 }, itemStyle: { color: d[2] },
      z: 2 + k, silent: true
    };
    if (k === 0) {
      s.markLine = {
        silent: true, symbol: ['none', 'none'], label: { show: false },
        lineStyle: { color: '#000', type: [4, 3], width: 2.5 },
        data: [{ xAxis: 0 }]
      };
    }
    series.push(s);
  });
}

const legendRich = {
  n: { fontSize: 28, fontFamily: FONT, lineHeight: 30, color: '#000' },
  m: { fontSize: 28, fontFamily: 'DejaVu Serif', lineHeight: 30, color: '#000' },
  i: { fontSize: 28, fontFamily: 'DejaVu Serif', fontStyle: 'italic', lineHeight: 30, color: '#000' }
};
function legendFmt(name) {
  const m = name.match(/^(.*-)(\d)([a-z])$/);
  if (!m) return '{n|' + name + '}';
  return '{n|' + m[1] + '}{m|' + m[2] + '}{i|' + m[3] + '}';
}
const legendBase = {
  orient: 'vertical', icon: 'rect', itemWidth: 30, itemHeight: 4, selectedMode: false,
  formatter: legendFmt, textStyle: { fontSize: 28, fontFamily: FONT, color: '#000', rich: legendRich }
};

function text(x, y, str, font, align, extra) {
  return Object.assign({
    type: 'text', x: x, y: y, silent: true,
    style: { text: str, font: font, fill: '#000', align: align || 'left', verticalAlign: 'middle',
             textAlign: align || 'left', textVerticalAlign: 'middle' }
  }, extra || {});
}
// italic space-group symbol with a subscript, laid out as one rich text
function spaceGroup(x, y, main, sub, size, subSize) {
  return {
    type: 'text', x: x, y: y, silent: true,
    style: {
      text: '{m|' + main + '}{s|' + sub + '}', fill: '#000',
      align: 'left', verticalAlign: 'middle', textAlign: 'left', textVerticalAlign: 'middle',
      rich: {
        m: { fontSize: size, fontFamily: SANS, fontStyle: 'italic', lineHeight: 48 },
        s: { fontSize: subSize, fontFamily: SANS, fontStyle: 'italic', lineHeight: subSize, verticalAlign: 'bottom' }
      }
    }
  };
}
const dosRich = {
  t: { fontSize: 24, fontFamily: FONT, lineHeight: 28 },
  s: { fontSize: 16, fontFamily: FONT, verticalAlign: 'top', lineHeight: 28 }
};
function dosLabel(x, y) {
  return {
    type: 'text', x: x, y: y, rotation: Math.PI / 2, silent: true,
    style: { text: '{t|DOS (eV}{s|\u22121}{t| f.u.}{s|\u22121}{t|)}', rich: dosRich, fill: '#000',
             align: 'center', verticalAlign: 'middle', textAlign: 'center', textVerticalAlign: 'middle' }
  };
}

const graphics = [
  text(302, 20, 'Post-perovskite', '38px "' + SANS + '"', 'center'),
  spaceGroup(242, 58, 'Pmm', '2', 37, 25),
  text(626, 20, 'Perovskite', '38px "' + SANS + '"', 'center'),
  spaceGroup(555, 48, 'Pmn2', '1', 40, 27),
  text(927, 20, 'Perovskite', '38px "' + SANS + '"', 'center'),
  spaceGroup(865, 49, 'Pmm', '2', 40, 27),
  text(120, 64, 'a', 'bold 37px "' + SANS + '"'),
  text(447, 64, 'b', 'bold 37px "' + SANS + '"'),
  text(748, 64, 'c', 'bold 37px "' + SANS + '"'),
  text(118, 392, 'd', 'bold 37px "' + SANS + '"'),
  text(447, 392, 'e', 'bold 37px "' + SANS + '"'),
  text(765, 392, 'f', 'bold 37px "' + SANS + '"'),
  text(25, 216, 'No SOI', 'bold 36px "' + SANS + '"', 'center', { rotation: Math.PI / 2 }),
  text(25, 530, 'With SOI', 'bold 36px "' + SANS + '"', 'center', { rotation: Math.PI / 2 }),
  dosLabel(64, 197),
  dosLabel(64, 519)
];

const option = {
  animation: false,
  backgroundColor: '#fff',
  textStyle: { fontFamily: FONT },
  grid: grids,
  xAxis: xAxes,
  yAxis: yAxes,
  legend: [
    Object.assign({}, legendBase, { data: ['Total', 'Bi-6s', 'Pb-6s'], left: 137, top: 106, itemGap: 12 }),
    Object.assign({}, legendBase, { data: ['Ti-3d', 'O-2p'], left: 447, top: 101, itemGap: 7 })
  ],
  graphic: graphics,
  series: series
};

const chart = echarts.init(document.getElementById('chart'), null, { renderer: 'canvas' });
chart.setOption(option);
</script>
</body>
</html>
